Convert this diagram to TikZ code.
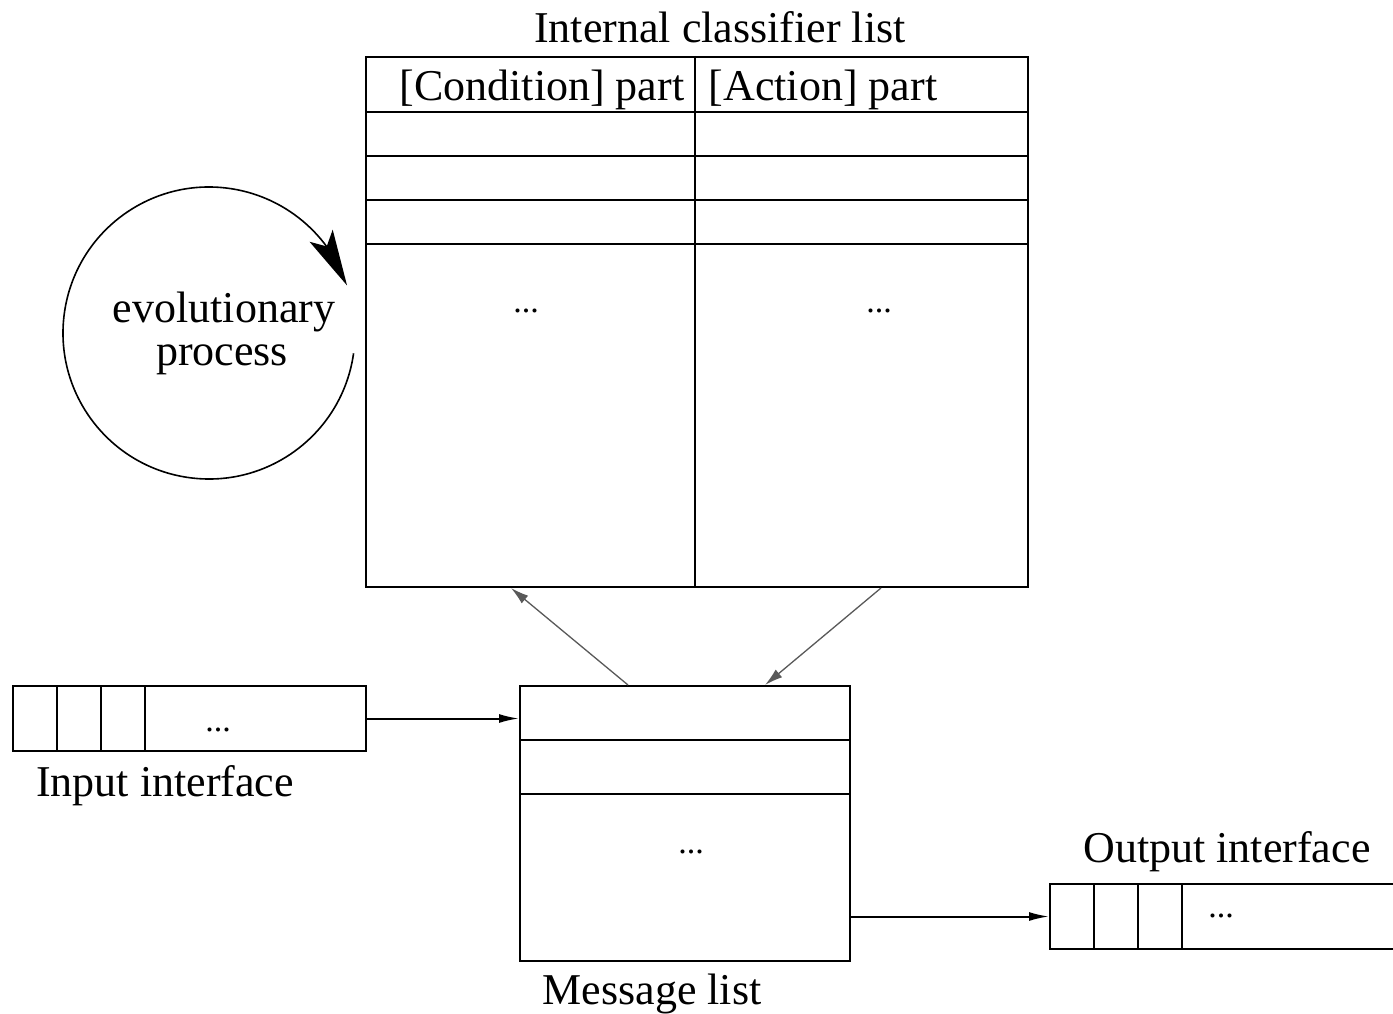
\documentclass[tikz,border=0pt]{standalone}
\usepackage{fontspec}
\setmainfont{Liberation Serif}
\usetikzlibrary{arrows.meta,calc,bending}
\begin{document}
\begin{tikzpicture}[x=1pt,y=-1pt,
  txt/.style={inner sep=0pt,anchor=base,font=\fontsize{44}{48}\selectfont},
  dots/.style={inner sep=0pt,anchor=base,font=\fontsize{34}{40}\selectfont},
  box/.style={draw,line width=2pt,inner sep=0pt},
  rule/.style={line width=2pt},
  thinarrow/.style={line width=1.3pt,draw=black!65,-{Latex[length=18pt,width=10pt]}},
  flowarrow/.style={line width=2pt,-{Latex[length=20pt,width=9pt]}},
  evoarrow/.style={line width=1.6pt,-{Stealth[length=56pt,width=26pt,inset=12pt,flex]}}]
\clip (0,0) rectangle (1393,1014);
\fill[white] (0,0) rectangle (1393,1014);
% classifier table
\node[box,minimum width=662pt,minimum height=530pt] (cls) at (697,322) {};
\draw[rule] ($(cls.north west)+(330,0)$) -- ($(cls.south west)+(330,0)$);
\foreach \yy in {56,100,144,188} {
  \draw[rule] ($(cls.north west)+(0,\yy)$) -- ($(cls.north east)+(0,\yy)$);
}
\node[txt] (title) at (720,43) {Internal classifier list};
\node[txt] (cond) at (542,101) {[Condition] part};
\node[txt] (act) at (823,101) {[Action] part};
\node[dots] (d1) at (526,312) {...};
\node[dots] (d2) at (879,312) {...};
% evolutionary process
\node[txt] (evo1) at (224,322) {evolutionary};
\node[txt] (evo2) at (222,365) {process};
\coordinate (evoc) at (209,333);
\draw[evoarrow] (evoc) ++(8:146) arc[start angle=8,end angle=341,radius=146];
% message list
\node[box,minimum width=330pt,minimum height=275pt] (msg) at (685,823.5) {};
\draw[rule] ($(msg.north west)+(0,55)$) -- ($(msg.north east)+(0,55)$);
\draw[rule] ($(msg.north west)+(0,109)$) -- ($(msg.north east)+(0,109)$);
\node[dots] (d3) at (691,853) {...};
\node[txt] (msglab) at (652,1004) {Message list};
% input interface
\node[box,minimum width=353pt,minimum height=65pt] (inp) at (189.5,718.5) {};
\foreach \xx in {45,89,133} {
  \draw[rule] ($(inp.north west)+(\xx,0)$) -- ($(inp.south west)+(\xx,0)$);
}
\node[dots] (d4) at (218,731) {...};
\node[txt] (inplab) at (165,796) {Input interface};
% output interface
\node[box,minimum width=350pt,minimum height=65pt] (outp) at (1225,916.5) {};
\foreach \xx in {45,89,133} {
  \draw[rule] ($(outp.north west)+(\xx,0)$) -- ($(outp.south west)+(\xx,0)$);
}
\node[dots] (d5) at (1221,917) {...};
\node[txt] (outlab) at (1227,862) {Output interface};
% connectors
\draw[flowarrow] (inp.east) -- (msg.west |- inp.east);
\draw[flowarrow] (msg.east |- outp.west) -- (outp.west);
\draw[thinarrow] ($(msg.north west)+(109,0)$) -- ($(cls.south west)+(146,0)$);
\draw[thinarrow] ($(cls.south west)+(516,0)$) -- ($(msg.north west)+(246,0)$);
\end{tikzpicture}
\end{document}
